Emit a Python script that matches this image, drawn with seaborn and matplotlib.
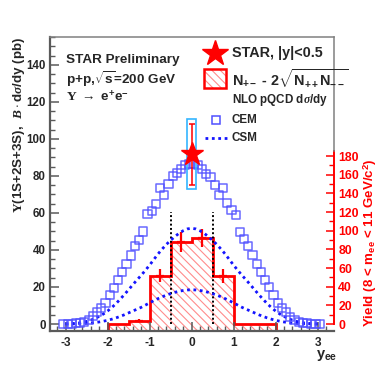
import matplotlib
matplotlib.use("Agg")
import matplotlib.pyplot as plt
import numpy as np
import pandas as pd
import seaborn as sns
from matplotlib.lines import Line2D
from matplotlib.patches import Rectangle
from matplotlib.ticker import MultipleLocator, FixedLocator

# ---------------- data ----------------
# NLO pQCD CEM prediction (open squares), rapidity and B*dsigma/dy (pb)
cem_y = [-3.05, -2.95, -2.85, -2.75, -2.65, -2.55, -2.45, -2.35, -2.25, -2.15,
         -2.05, -1.95, -1.85, -1.75, -1.65, -1.55, -1.45, -1.35, -1.25, -1.15,
         -1.05, -0.95, -0.85, -0.75, -0.65, -0.55, -0.45, -0.35, -0.25, -0.15,
         -0.05, 0.05, 0.15, 0.25, 0.35, 0.45, 0.55, 0.65, 0.75, 0.85,
         0.95, 1.05, 1.15, 1.25, 1.35, 1.45, 1.55, 1.65, 1.75, 1.85,
         1.95, 2.05, 2.15, 2.25, 2.35, 2.45, 2.55, 2.65, 2.75, 2.85,
         2.95, 3.05]
cem_xs = [0.0, 0.0, 0.1, 0.3, 0.6, 1.2, 2.4, 4.2, 6.5, 8.5,
          11.2, 15.8, 19.5, 24.0, 28.3, 32.4, 37.0, 42.0, 45.6, 50.0,
          59.3, 61.3, 64.9, 73.3, 69.7, 75.7, 80.0, 81.5, 84.0, 86.0,
          86.5, 86.5, 86.0, 84.0, 81.0, 79.5, 75.3, 69.7, 73.3, 65.2,
          61.6, 59.0, 49.9, 45.8, 42.2, 37.3, 32.6, 28.3, 23.8, 19.8,
          15.7, 11.3, 8.5, 6.7, 4.0, 2.2, 1.0, 0.5, 0.3, 0.1,
          0.0, 0.0]

# NLO pQCD CSM predictions (dotted curves)
csm_y = [-3.0, -2.9, -2.8, -2.7, -2.6, -2.5, -2.4, -2.3, -2.2, -2.1,
         -2.0, -1.9, -1.8, -1.7, -1.6, -1.5, -1.4, -1.3, -1.2, -1.1,
         -1.0, -0.9, -0.8, -0.7, -0.6, -0.5, -0.4, -0.3, -0.2, -0.1,
         0.0, 0.1, 0.2, 0.3, 0.4, 0.5, 0.6, 0.7, 0.8, 0.9,
         1.0, 1.1, 1.2, 1.3, 1.4, 1.5, 1.6, 1.7, 1.8, 1.9,
         2.0, 2.1, 2.2, 2.3, 2.4, 2.5, 2.6, 2.7, 2.8, 2.9, 3.0]
csm_upper = [0.05, 0.15, 0.3, 0.5, 0.9, 1.4, 2.1, 3.0, 4.1, 5.4,
             7.0, 8.9, 11.0, 13.4, 15.9, 18.5, 21.2, 23.8, 26.3, 29.0,
             31.8, 34.8, 37.8, 40.5, 43.0, 45.2, 47.2, 49.0, 50.4, 51.4,
             51.7, 51.4, 50.4, 49.0, 47.2, 45.2, 43.0, 40.5, 37.8, 34.8,
             31.8, 29.0, 26.3, 23.8, 21.2, 18.5, 15.9, 13.4, 11.0, 8.9,
             7.0, 5.4, 4.1, 3.0, 2.1, 1.4, 0.9, 0.5, 0.3, 0.15, 0.05]
csm_lower = [0.0, 0.02, 0.05, 0.1, 0.2, 0.35, 0.5, 0.8, 1.1, 1.5,
             2.0, 2.6, 3.3, 4.1, 5.0, 6.0, 7.0, 8.0, 9.0, 10.2,
             11.4, 12.6, 13.7, 14.7, 15.6, 16.4, 17.1, 17.7, 18.1, 18.4,
             18.5, 18.4, 18.1, 17.7, 17.1, 16.4, 15.6, 14.7, 13.7, 12.6,
             11.4, 10.2, 9.0, 8.0, 7.0, 6.0, 5.0, 4.1, 3.3, 2.6,
             2.0, 1.5, 1.1, 0.8, 0.5, 0.35, 0.2, 0.1, 0.05, 0.02, 0.0]

# STAR measurement |y|<0.5
star_y = [0.0]
star_xs = [91.8]
star_stat = [16.5]
star_sys = [19.1]

# Signal yield histogram N+- - 2 sqrt(N++ N--)  (right axis)
hist_edges = [-2.0, -1.5, -1.0, -0.5, 0.0, 0.5, 1.0, 1.5, 2.0]
hist_vals = [0.0, 3.5, 51.8, 88.0, 92.0, 51.2, 0.0, 0.0]
err_centers = [-1.25, -0.75, -0.25, 0.25, 0.75]
err_vals = [3.5, 51.8, 88.0, 92.0, 51.2]
err_sizes = [1.8, 7.1, 11.0, 10.0, 7.5]

# |y|<0.5 acceptance cut markers
cut_edges = [-0.5, 0.5]
cut_height = 60.7

left_ticks = [0, 20, 40, 60, 80, 100, 120, 140]
right_ticks = [0, 20, 40, 60, 80, 100, 120, 140, 160, 180]
x_ticks = [-3, -2, -1, 0, 1, 2, 3]

# ---------------- style ----------------
sns.set_theme(style="white")
plt.rcParams["font.family"] = ["Liberation Sans", "DejaVu Sans"]
plt.rcParams["font.weight"] = "bold"
plt.rcParams["axes.unicode_minus"] = False
plt.rcParams["mathtext.fontset"] = "custom"
plt.rcParams["mathtext.rm"] = "Liberation Sans:bold"
plt.rcParams["mathtext.bf"] = "Liberation Sans:bold"
plt.rcParams["mathtext.sf"] = "Liberation Sans:bold"
plt.rcParams["mathtext.it"] = "Liberation Serif:italic"
plt.rcParams["mathtext.cal"] = "Liberation Serif"
plt.rcParams["hatch.linewidth"] = 0.8

W, H = 385, 368
fig = plt.figure(figsize=(W / 100, H / 100), dpi=100)
ax = fig.add_axes([50 / W, 37 / H, 284 / W, 294 / H])
tw = ax.twinx()
ax.set_zorder(2)
tw.set_zorder(1)
ax.patch.set_visible(False)

ylim_left = (-3.78, 155.1)
scale = 1.983
ylim_right = (ylim_left[0] * scale, ylim_left[1] * scale)
xlim = (-3.37, 3.39)

blue_sq = "#4f4fff"
blue_ln = "#1414ff"
red = "#ff0000"

# ---------------- histogram (right axis) ----------------
tw.stairs(hist_vals, hist_edges, baseline=ylim_right[0], fill=True,
          facecolor="none", edgecolor="#ff8c8c", hatch="\\\\\\\\", linewidth=0)
tw.stairs(hist_vals, hist_edges, baseline=ylim_right[0], fill=False,
          color=red, linewidth=2)
tw.errorbar(err_centers, err_vals, yerr=err_sizes, fmt="_", color=red,
            ms=6, mew=1.6, elinewidth=1.6, capsize=0)

# ---------------- theory (left axis) ----------------
cem_df = pd.DataFrame({"y": cem_y, "xs": cem_xs})
csm_df = pd.DataFrame({"y": csm_y, "upper": csm_upper, "lower": csm_lower})

ax.vlines(cut_edges, 0, cut_height, colors="black", linestyles=(0, (1, 1.2)),
          linewidth=1.4, zorder=2)
sns.lineplot(data=csm_df, x="y", y="upper", ax=ax, color=blue_ln, lw=2,
             linestyle=(0, (1, 1.3)), legend=False, zorder=3)
sns.lineplot(data=csm_df, x="y", y="lower", ax=ax, color=blue_ln, lw=2,
             linestyle=(0, (1, 1.3)), legend=False, zorder=3)
sns.scatterplot(data=cem_df, x="y", y="xs", ax=ax, marker="s", s=34,
                facecolor="none", edgecolor=blue_sq, linewidth=1.1,
                alpha=0.85, legend=False, zorder=4)

# STAR point
for xv, yv, sy in zip(star_y, star_xs, star_sys):
    ax.add_patch(Rectangle((xv - 0.105, yv - sy), 0.21, 2 * sy, fill=False,
                           edgecolor="#33b5ff", linewidth=1.2, zorder=5))
ax.errorbar(star_y, star_xs, yerr=star_stat, fmt="none", ecolor=red,
            elinewidth=1.1, capsize=2, capthick=1.1, zorder=6)
ax.plot(star_y, star_xs, linestyle="none", marker="*", ms=17, color=red,
        mec=red, zorder=7)

# ---------------- axes ----------------
ax.set_xlim(*xlim)
ax.set_ylim(*ylim_left)
tw.set_ylim(*ylim_right)
ax.set_xlabel("")
ax.set_ylabel("")

ax.xaxis.set_major_locator(FixedLocator(x_ticks))
ax.xaxis.set_minor_locator(MultipleLocator(0.2))
ax.yaxis.set_major_locator(FixedLocator(left_ticks))
ax.yaxis.set_minor_locator(MultipleLocator(5))
ax.set_xticklabels([str(t) for t in x_ticks])
ax.set_yticklabels([str(t) for t in left_ticks])

gray = "#5a5a5a"
ax.tick_params(axis="both", which="major", direction="in", length=6.5,
               width=1.1, color=gray, labelsize=8.3, pad=3)
ax.tick_params(axis="both", which="minor", direction="in", length=3.5,
               width=1.0, color=gray)
ax.tick_params(axis="x", which="major", pad=4.5, labelsize=8.6)
ax.tick_params(axis="y", which="both", right=False, left=True)
ax.tick_params(axis="x", which="both", top=False, bottom=True)
for lab in ax.get_xticklabels() + ax.get_yticklabels():
    lab.set_fontweight("bold")

for side in ["left", "bottom"]:
    ax.spines[side].set_color(gray)
    ax.spines[side].set_linewidth(1.6)
for side in ["top", "right"]:
    ax.spines[side].set_color("#808080")
    ax.spines[side].set_linewidth(1.1)
red_top = 185
ax.spines["right"].set_bounds(red_top / scale, ylim_left[1])

for side in ["left", "top", "bottom"]:
    tw.spines[side].set_visible(False)
tw.spines["right"].set_color(red)
tw.spines["right"].set_linewidth(1.4)
tw.spines["right"].set_bounds(0, red_top)
tw.yaxis.set_major_locator(FixedLocator(right_ticks))
tw.yaxis.set_minor_locator(FixedLocator(list(range(0, red_top, 10))))
tw.set_yticklabels([str(t) for t in right_ticks])
tw.tick_params(axis="y", which="major", direction="in", length=6, width=1.1,
               color=red, labelcolor=red, labelsize=8.8, pad=3)
tw.tick_params(axis="y", which="minor", direction="in", length=3.5,
               width=1.0, color=red)
for lab in tw.get_yticklabels():
    lab.set_fontweight("bold")
tw.grid(False)
ax.grid(False)


def px(x, y):
    return (x / W, 1 - y / H)


# axis titles
fig.text(*px(19, 37), r"$\mathcal{\Upsilon}$(1S+2S+3S),  $B\cdot$d$\sigma$/dy (pb)",
         rotation=90, ha="center", va="top", fontsize=9.6, fontweight="bold")
fig.text(*px(370, 327), r"Yield (8 < m$_{\mathrm{ee}}$ < 11 GeV/c$^{2}$)",
         rotation=90, ha="center", va="bottom", fontsize=9.6,
         fontweight="bold", color=red)
fig.text(*px(337, 358), r"y$_{\mathrm{ee}}$", ha="right", va="baseline",
         fontsize=10.5, fontweight="bold")

# annotations
fig.text(*px(66, 60), "STAR Preliminary", ha="left", va="center",
         fontsize=9.7, fontweight="bold")
fig.text(*px(66, 79), r"p+p,$\sqrt{\mathrm{s}}$=200 GeV", ha="left",
         va="center", fontsize=9.7, fontweight="bold")
fig.text(*px(66, 96), r"$\mathcal{\Upsilon}$ $\rightarrow$ e$^{+}$e$^{-}$",
         ha="left", va="center", fontsize=9.7, fontweight="bold")

# legend (manual, ROOT-like layout)
tx = 231.7
fig.add_artist(Line2D([px(215, 53)[0]], [px(215, 53)[1]], marker="*", ms=19,
                      color=red, linestyle="none", transform=fig.transFigure))
fig.text(*px(tx, 53), "STAR, |y|<0.5", ha="left", va="center", fontsize=10.4,
         fontweight="bold")
x0, y0 = px(204, 88.3)
x1, y1 = px(226, 69.3)
fig.add_artist(Rectangle((x0, y0), x1 - x0, y1 - y0, transform=fig.transFigure,
                         facecolor="none", edgecolor="#ff8c8c",
                         hatch="\\\\\\\\", linewidth=0))
fig.add_artist(Rectangle((x0, y0), x1 - x0, y1 - y0, transform=fig.transFigure,
                         fill=False, edgecolor=red, linewidth=1.8))
fig.text(*px(tx, 79), r"N$_{+-}$ - 2$\sqrt{\mathrm{N}_{++}\mathrm{N}_{--}}$",
         ha="left", va="center", fontsize=10.4, fontweight="bold")
fig.text(*px(tx, 100), r"NLO pQCD d$\sigma$/dy", ha="left", va="center",
         fontsize=8.4, fontweight="bold")
fig.add_artist(Line2D([px(216, 120)[0]], [px(216, 120)[1]], marker="s", ms=6,
                      mfc="none", mec=blue_sq, mew=1.1, linestyle="none",
                      transform=fig.transFigure))
fig.text(*px(tx, 120), "CEM", ha="left", va="center", fontsize=8.4,
         fontweight="bold")
fig.add_artist(Line2D([px(205, 138)[0], px(227, 138)[0]],
                      [px(205, 138)[1], px(227, 138)[1]], color=blue_ln, lw=2,
                      linestyle=(0, (1, 1.3)), transform=fig.transFigure))
fig.text(*px(tx, 138), "CSM", ha="left", va="center", fontsize=8.4,
         fontweight="bold")

fig.savefig("out.png", dpi=100, facecolor="white")
